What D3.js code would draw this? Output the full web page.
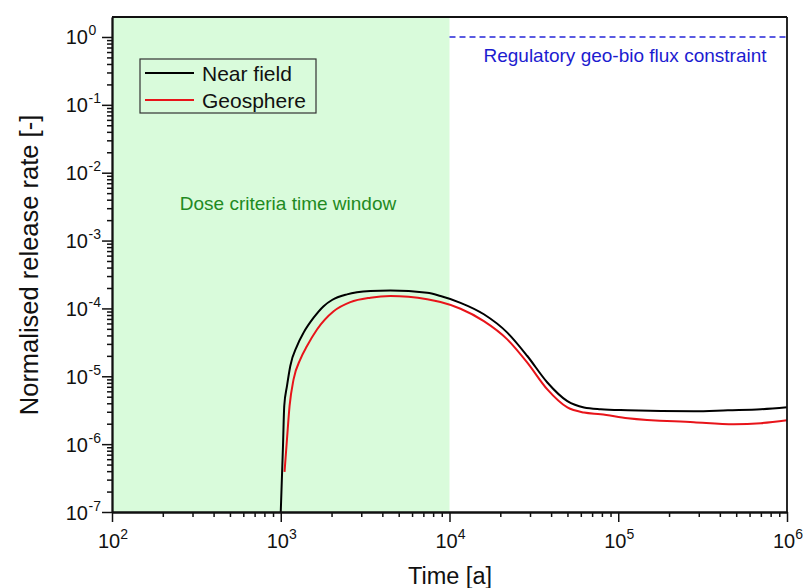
<!DOCTYPE html>
<html>
<head>
<meta charset="utf-8">
<script src="https://cdn.jsdelivr.net/npm/d3@7"></script>
<style>
  body { margin: 0; background: #fff; }
  svg { font-family: "Liberation Sans", Arial, sans-serif; }
</style>
</head>
<body>
<svg id="chart" width="803" height="588"></svg>
<script>
// near field curve, [time (a), normalised release rate]
const nearField = [
  [1000, 1e-7], [1031, 9.4e-7], [1049, 3.66e-6], [1089, 7.2e-6], [1139, 1.42e-5],
  [1248, 2.79e-5], [1366, 4.4e-5], [1566, 7.3e-5], [1795, 1.08e-4], [2013, 1.33e-4],
  [2471, 1.61e-4], [3398, 1.8e-4], [4467, 1.84e-4], [7375, 1.7e-4], [8843, 1.52e-4],
  [11620, 1.21e-4], [15980, 8.2e-5], [22000, 4.4e-5], [28910, 1.99e-5], [38000, 8.1e-6],
  [49940, 4.3e-6], [62660, 3.47e-6], [78700, 3.27e-6], [113900, 3.16e-6], [280500, 3.05e-6],
  [446600, 3.16e-6], [701000, 3.27e-6], [1000000, 3.5e-6]
];
// geosphere curve
const geosphere = [
  [1053, 3.9e-7], [1089, 1.19e-6], [1128, 3.66e-6], [1191, 9.0e-6], [1306, 1.78e-5],
  [1431, 2.79e-5], [1640, 4.9e-5], [2058, 9.1e-5], [2585, 1.24e-4], [3398, 1.44e-4],
  [4467, 1.52e-4], [7375, 1.36e-4], [8843, 1.24e-4], [11620, 9.9e-5], [15980, 6.5e-5],
  [22000, 3.5e-5], [28910, 1.59e-5], [38000, 6.4e-6], [49940, 3.47e-6], [62660, 2.92e-6],
  [78700, 2.76e-6], [113900, 2.41e-6], [280500, 2.11e-6], [484800, 1.97e-6],
  [701000, 2.04e-6], [1000000, 2.25e-6]
];
const xTickExp = [2, 3, 4, 5, 6];
const yTickExp = [0, -1, -2, -3, -4, -5, -6, -7];
const doseWindow = [100, 10000];
const constraintLevel = 1;
const constraintStart = 10000;

const svg = d3.select("#chart");
const mLeft = 112, mTop = 17, mRight = 787, mBottom = 512;

const x = d3.scaleLog().domain([100, 1e6]).range([mLeft, mRight]);
const y = d3.scaleLog().domain([1e-7, 1.97]).range([mBottom, mTop]);

// dose window shading
svg.append("rect")
  .attr("x", x(doseWindow[0]))
  .attr("y", mTop)
  .attr("width", x(doseWindow[1]) - x(doseWindow[0]))
  .attr("height", mBottom - mTop)
  .attr("fill", "#d9fbdb");

svg.append("text")
  .attr("x", 288)
  .attr("y", 210)
  .attr("text-anchor", "middle")
  .attr("font-size", 19)
  .attr("fill", "#1f8a22")
  .text("Dose criteria time window");

// regulatory constraint
svg.append("line")
  .attr("x1", x(constraintStart)).attr("x2", mRight)
  .attr("y1", y(constraintLevel)).attr("y2", y(constraintLevel))
  .attr("stroke", "#2525d8")
  .attr("stroke-width", 1.3)
  .attr("stroke-dasharray", "6,4");

svg.append("text")
  .attr("x", 625)
  .attr("y", 62)
  .attr("text-anchor", "middle")
  .attr("font-size", 19)
  .attr("fill", "#1c1cd0")
  .text("Regulatory geo-bio flux constraint");

// curves
const line = d3.line()
  .x((d) => x(d[0]))
  .y((d) => y(d[1]))
  .curve(d3.curveMonotoneX);

svg.append("path").datum(geosphere)
  .attr("d", line).attr("fill", "none")
  .attr("stroke", "#e8141a").attr("stroke-width", 2);

svg.append("path").datum(nearField)
  .attr("d", line).attr("fill", "none")
  .attr("stroke", "#000").attr("stroke-width", 2);

// axes: major and minor ticks
const xMajor = xTickExp.map((e) => Math.pow(10, e));
const yMajor = yTickExp.map((e) => Math.pow(10, e));
const xMinor = [], yMinor = [];
xTickExp.slice(0, -1).forEach((e) => {
  for (let k = 2; k <= 9; k++) xMinor.push(k * Math.pow(10, e));
});
yTickExp.forEach((e) => {
  for (let k = 2; k <= 9; k++) {
    if (k * Math.pow(10, e) <= 1.97) yMinor.push(k * Math.pow(10, e));
  }
});

function styleAxis(g) {
  g.selectAll("path, line").attr("stroke", "#111").attr("stroke-width", 1.5);
  g.select(".domain").attr("stroke-width", 1.8);
}

svg.append("g")
  .attr("transform", `translate(0,${mBottom})`)
  .call(d3.axisBottom(x).tickValues(xMinor).tickSize(5).tickSizeOuter(0).tickFormat(""))
  .call(styleAxis);
svg.append("g")
  .attr("transform", `translate(0,${mBottom})`)
  .call(d3.axisBottom(x).tickValues(xMajor).tickSize(10).tickSizeOuter(0).tickFormat(""))
  .call(styleAxis);

svg.append("g")
  .attr("transform", `translate(${mLeft},0)`)
  .call(d3.axisLeft(y).tickValues(yMinor).tickSize(5).tickSizeOuter(0).tickFormat(""))
  .call(styleAxis);
svg.append("g")
  .attr("transform", `translate(${mLeft},0)`)
  .call(d3.axisLeft(y).tickValues(yMajor).tickSize(10).tickSizeOuter(0).tickFormat(""))
  .call(styleAxis);

// frame top and right
svg.append("line").attr("x1", mLeft).attr("x2", mRight).attr("y1", mTop).attr("y2", mTop)
  .attr("stroke", "#111").attr("stroke-width", 1.8);
svg.append("line").attr("x1", mRight).attr("x2", mRight).attr("y1", mTop).attr("y2", mBottom)
  .attr("stroke", "#111").attr("stroke-width", 1.8);

// tick labels with superscript exponents
xTickExp.forEach((e) => {
  const t = svg.append("text")
    .attr("x", x(Math.pow(10, e)) + 1)
    .attr("y", mBottom + 36)
    .attr("text-anchor", "middle")
    .attr("font-size", 20)
    .attr("fill", "#111");
  t.append("tspan").text("10");
  t.append("tspan").attr("font-size", 14).attr("dy", -9).text(e);
});

yTickExp.forEach((e) => {
  const ty = y(Math.pow(10, e)) + 7.5;
  svg.append("text")
    .attr("x", 88).attr("y", ty)
    .attr("text-anchor", "end")
    .attr("font-size", 20).attr("fill", "#111")
    .text("10");
  svg.append("text")
    .attr("x", 88.5).attr("y", ty - 9)
    .attr("font-size", 14).attr("fill", "#111")
    .text(e === 0 ? "0" : "-" + (-e));
});

// axis titles
svg.append("text")
  .attr("x", 450)
  .attr("y", 584)
  .attr("text-anchor", "middle")
  .attr("font-size", 23.5)
  .attr("fill", "#111")
  .text("Time [a]");

svg.append("text")
  .attr("transform", `translate(38,265) rotate(-90)`)
  .attr("text-anchor", "middle")
  .attr("font-size", 25.5)
  .attr("fill", "#111")
  .text("Normalised release rate [-]");

// legend
const legend = svg.append("g");
legend.append("rect")
  .attr("x", 140).attr("y", 59).attr("width", 176).attr("height", 54)
  .attr("fill", "none").attr("stroke", "#333").attr("stroke-width", 1.2);
const legendItems = [["Near field", "#000"], ["Geosphere", "#e8141a"]];
legendItems.forEach((d, i) => {
  const ly = 73 + i * 27;
  legend.append("line")
    .attr("x1", 145).attr("x2", 194).attr("y1", ly).attr("y2", ly)
    .attr("stroke", d[1]).attr("stroke-width", 2);
  legend.append("text")
    .attr("x", 202).attr("y", ly + 7.5)
    .attr("font-size", 21).attr("fill", "#111")
    .text(d[0]);
});
</script>
</body>
</html>
